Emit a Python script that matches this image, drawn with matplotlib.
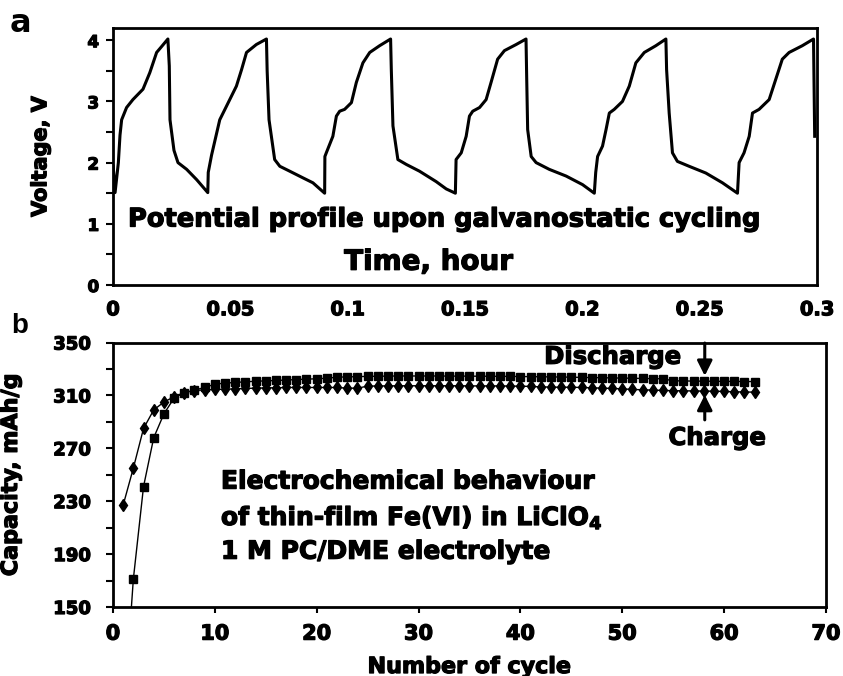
import numpy as np
import matplotlib
matplotlib.use("Agg")
import matplotlib.pyplot as plt
import matplotlib.patheffects as pe

# Panel a: potential profile (time in hours, voltage in V)
time_h = [0.0001, 0.0009, 0.0023, 0.0030, 0.0037, 0.0058, 0.0085, 0.0128, 0.0157, 0.0186, 0.0208, 0.0234,
          0.0240, 0.0243, 0.0260, 0.0277, 0.0314, 0.0357, 0.0404,
          0.0406, 0.0420, 0.0455, 0.0477, 0.0526, 0.0548, 0.0569, 0.0611, 0.0654,
          0.0657, 0.0665, 0.0689, 0.0711, 0.0753, 0.0810, 0.0852, 0.0902,
          0.0903, 0.0909, 0.0937, 0.0952, 0.0966, 0.0987, 0.1016, 0.1037, 0.1065, 0.1094, 0.1136, 0.1183,
          0.1186, 0.1193, 0.1214, 0.1250, 0.1306, 0.1377, 0.1420, 0.1459,
          0.1462, 0.1484, 0.1505, 0.1519, 0.1533, 0.1562, 0.1590, 0.1611, 0.1639, 0.1668, 0.1718, 0.1760,
          0.1763, 0.1767, 0.1782, 0.1803, 0.1859, 0.1931, 0.2001, 0.2051,
          0.2057, 0.2065, 0.2086, 0.2101, 0.2115, 0.2136, 0.2171, 0.2200, 0.2228, 0.2264, 0.2313, 0.2356,
          0.2359, 0.2370, 0.2384, 0.2405, 0.2455, 0.2526, 0.2597, 0.2661,
          0.2668, 0.2689, 0.2711, 0.2725, 0.2753, 0.2796, 0.2824, 0.2852, 0.2881, 0.2937, 0.2985,
          0.2990]
voltage = [1.94, 1.51, 2.00, 2.45, 2.70, 2.90, 3.03, 3.20, 3.47, 3.80, 3.90, 4.02,
           3.58, 2.70, 2.20, 2.00, 1.89, 1.72, 1.51,
           1.84, 2.12, 2.70, 2.87, 3.25, 3.52, 3.80, 3.93, 4.02,
           3.50, 2.70, 2.05, 1.94, 1.86, 1.75, 1.67, 1.50,
           2.10, 2.16, 2.43, 2.76, 2.84, 2.87, 2.98, 3.31, 3.63, 3.80, 3.91, 4.02,
           3.52, 2.60, 2.05, 1.97, 1.86, 1.69, 1.57, 1.50,
           2.05, 2.16, 2.43, 2.76, 2.84, 2.90, 3.03, 3.31, 3.69, 3.83, 3.93, 4.02,
           3.36, 2.54, 2.10, 2.00, 1.89, 1.78, 1.64, 1.50,
           1.84, 2.10, 2.27, 2.54, 2.81, 2.87, 3.00, 3.25, 3.63, 3.80, 3.91, 4.02,
           3.52, 2.81, 2.16, 2.02, 1.94, 1.83, 1.67, 1.50,
           2.00, 2.16, 2.43, 2.81, 2.87, 3.03, 3.36, 3.69, 3.80, 3.91, 4.02,
           2.43]

# Panel b: capacity per cycle (mAh/g)
cycles = list(range(1, 64))
discharge_cap = [60, 171, 241, 278, 296, 308, 312, 314, 316, 318.5,
                 319.3, 319.8, 320.3, 320.7, 321, 321.3, 321.6, 322, 322.3, 322.6,
                 323, 323.8, 324, 324.2, 324.4, 324.5, 324.6, 324.7, 324.7, 324.7,
                 324.7, 324.7, 324.6, 324.6, 324.6, 324.5, 324.5, 324.4, 324.4, 324.3,
                 324.2, 324.1, 324, 323.9, 323.8, 323.6, 323.5, 323.4, 323.2, 323.1,
                 323, 322.8, 322.7, 322.6, 321, 321, 320.8, 320.8, 320.7, 320.6,
                 320.6, 320.5, 320.5]
charge_cap = [227, 255, 285, 299, 305, 309, 312, 313.7, 314.2, 314.5,
              314.7, 315, 315.3, 315.5, 315.7, 315.8, 316, 316, 316, 316,
              316, 316, 315.5, 315.5, 317, 317.2, 317.2, 317.3, 317.3, 317.3,
              317.3, 317.3, 317.3, 317.3, 317.2, 317.2, 317.2, 317.2, 317.1, 317,
              316.8, 316.5, 316.3, 316.2, 316.2, 316, 315.8, 315.5, 315.3, 315,
              314.5, 314.3, 314, 313.8, 313.6, 313.5, 313.4, 313.3, 313.2, 313,
              312.8, 312.6, 312.5]

HEAVY = "DejaVu Sans"
# thin outline makes DejaVu Bold look closer to the heavy font of the original
THICK = [pe.withStroke(linewidth=0.9, foreground="black")]


def heavy(txt):
    txt.set_fontweight("bold")
    txt.set_family(HEAVY)
    txt.set_path_effects(THICK)


def style_axes(ax):
    """Thick black frame, outward ticks."""
    for side in ax.spines.values():
        side.set_linewidth(2)
        side.set_color("black")


def plot_voltage(ax):
    ax.plot(time_h, voltage, color="black", lw=2.2, solid_joinstyle="round")
    ax.set_xlim(0, 0.3)
    ax.set_ylim(0, 4.2)
    style_axes(ax)

    # labels every 0.05, tick marks only every 0.1
    ax.set_xticks(np.arange(0, 0.301, 0.05))
    ax.set_xticklabels(["0", "0.05", "0.1", "0.15", "0.2", "0.25", "0.3"])
    ax.set_xticks(np.arange(0, 0.301, 0.1), minor=True)
    ax.tick_params(axis="x", which="major", length=0, pad=11, labelsize=14)
    ax.tick_params(axis="x", which="minor", length=5, width=2, direction="out")
    ax.set_yticks([0, 1, 2, 3, 4])
    ax.set_yticks(np.arange(0.5, 4.01, 1), minor=True)
    ax.tick_params(axis="y", which="both", length=5, width=1.5, direction="out", labelsize=12, pad=5)
    for lab in ax.get_xticklabels() + ax.get_yticklabels():
        heavy(lab)

    ax.set_ylabel("Voltage, V", fontsize=15)
    heavy(ax.yaxis.label)
    ax.yaxis.set_label_coords(-0.089, 0.5)
    heavy(ax.text(0.1413, 1.07, "Potential profile upon galvanostatic cycling", ha="center", va="center",
                  fontsize=18.5))
    heavy(ax.text(0.1345, 0.38, "Time, hour", ha="center", va="center", fontsize=20))


def plot_capacity(ax):
    ax.plot(cycles, discharge_cap, color="black", lw=1, marker="s", markersize=5.5)
    ax.plot(cycles, charge_cap, color="black", lw=1, marker="d", markersize=6.5)
    ax.set_xlim(0, 70)
    ax.set_ylim(150, 350)
    style_axes(ax)

    ax.set_xticks(range(0, 71, 10))
    ax.set_yticks(range(150, 351, 40))
    ax.set_yticks(range(170, 351, 40), minor=True)
    ax.tick_params(axis="x", length=4, width=1.5, direction="out", labelsize=15, pad=8)
    ax.tick_params(axis="y", which="both", length=5, width=1.5, direction="out", labelsize=13, pad=11)
    for lab in ax.get_xticklabels() + ax.get_yticklabels():
        heavy(lab)

    ax.set_ylabel("Capacity, mAh/g", fontsize=16)
    heavy(ax.yaxis.label)
    ax.yaxis.set_label_coords(-0.129, 0.5)
    ax.set_xlabel("Number of cycle", fontsize=16)
    heavy(ax.xaxis.label)
    ax.xaxis.set_label_coords(0.5, -0.227)
    ax.xaxis.label.set_va("center")

    # arrows pointing at the two curves
    arrow = dict(arrowstyle="-|>,head_length=0.9,head_width=0.45", color="black", lw=2.2,
                 shrinkA=0, shrinkB=0)
    ax.annotate("", xy=(58.1, 324.8), xytext=(58.1, 349.6), arrowprops=arrow)
    ax.annotate("", xy=(58.1, 310.4), xytext=(58.1, 291.5), arrowprops=arrow)
    heavy(ax.text(55.7, 339.2, "Discharge", ha="right", va="center", fontsize=17.5))
    heavy(ax.text(59.3, 277.9, "Charge", ha="center", va="center", fontsize=17.5))

    heavy(ax.text(10.6, 244.8, "Electrochemical behaviour", ha="left", va="center", fontsize=18))
    heavy(ax.text(10.6, 217.6, "of thin-film Fe(VI) in LiClO$_\\mathbf{4}$", ha="left", va="center",
                  fontsize=18))
    heavy(ax.text(10.6, 191.8, "1 M PC/DME electrolyte", ha="left", va="center", fontsize=18))


def main():
    fig = plt.figure(figsize=(8.43, 6.76), dpi=100)
    ax_a = fig.add_axes([0.134, 0.5784, 0.8352, 0.3802])
    ax_b = fig.add_axes([0.134, 0.1021, 0.8458, 0.3912])

    plot_voltage(ax_a)
    plot_capacity(ax_b)

    fig.text(20 / 843, 1 - 23 / 676, "a", ha="center", va="center", fontsize=23, fontweight="bold",
             family="Liberation Sans Narrow")
    fig.text(20 / 843, 1 - 326 / 676, "b", ha="center", va="center", fontsize=20, fontweight="bold",
             family="Liberation Sans")

    fig.savefig("out.png", dpi=100)


if __name__ == "__main__":
    main()
